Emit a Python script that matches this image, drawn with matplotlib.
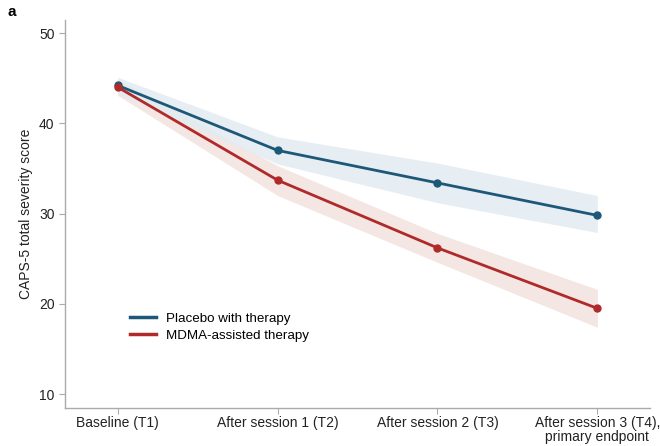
import matplotlib
matplotlib.use("Agg")
import matplotlib.pyplot as plt
import numpy as np

plt.rcParams["font.family"] = ["Liberation Sans", "DejaVu Sans"]

timepoints = ["Baseline (T1)", "After session 1 (T2)", "After session 2 (T3)",
              "After session 3 (T4),\nprimary endpoint"]

placebo_mean = [44.2, 37.0, 33.4, 29.8]
placebo_lo = [43.3, 35.5, 31.2, 27.9]
placebo_hi = [45.1, 38.5, 35.6, 32.0]

mdma_mean = [44.0, 33.7, 26.2, 19.5]
mdma_lo = [43.1, 32.0, 24.6, 17.4]
mdma_hi = [44.9, 35.3, 27.8, 21.6]

BLUE = "#1d5878"
RED = "#b02a2a"
BLUE_BAND = "#e2ecf2"
RED_BAND = "#f3e6e3"

fig = plt.figure(figsize=(6.6, 4.46), dpi=100)
ax = fig.add_axes([0.0985, 0.085, 0.8865, 0.87])

x = np.arange(len(timepoints))
ax.fill_between(x, mdma_lo, mdma_hi, color=RED_BAND, lw=0, zorder=1)
ax.fill_between(x, placebo_lo, placebo_hi, color=BLUE_BAND, lw=0, alpha=0.85, zorder=1)
ax.plot(x, placebo_mean, "-o", color=BLUE, lw=2, ms=5, label="Placebo with therapy", zorder=3)
ax.plot(x, mdma_mean, "-o", color=RED, lw=2, ms=5, label="MDMA-assisted therapy", zorder=3)

ax.set_xlim(-0.33, 3.33)
ax.set_ylim(8.45, 51.44)
ax.set_yticks([10, 20, 30, 40, 50])
ax.set_xticks(x)
ax.set_xticklabels(timepoints, linespacing=1.0)
ax.set_ylabel("CAPS-5 total severity score", fontsize=10, color="#222222")

for s in ["top", "right"]:
    ax.spines[s].set_visible(False)
for s in ["left", "bottom"]:
    ax.spines[s].set_color("#aaaaaa")
    ax.spines[s].set_linewidth(1)
ax.tick_params(colors="#aaaaaa", labelcolor="#222222", labelsize=10, length=4)
ax.tick_params(axis="x", pad=2)

leg = ax.legend(loc="lower left", bbox_to_anchor=(0.09, 0.14), frameon=False,
                fontsize=9.6, handlelength=2.0, handletextpad=0.7, labelspacing=0.35)
for h in leg.get_lines():
    h.set_marker("")
    h.set_linewidth(2.5)

fig.text(0.012, 0.965, "a", fontsize=11, fontweight="bold")

fig.savefig("out.png", dpi=100)
